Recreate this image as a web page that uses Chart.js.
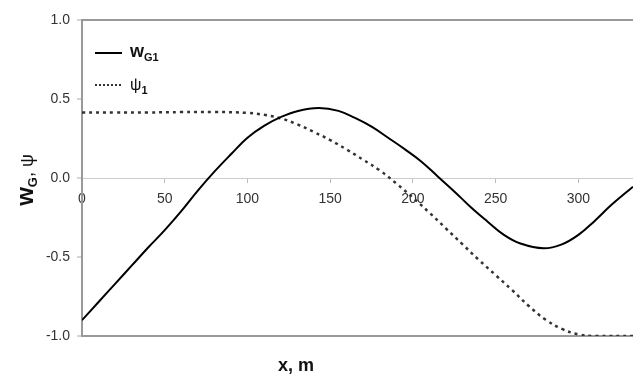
<!DOCTYPE html>
<html lang="en">
<head>
<meta charset="UTF-8">
<title>w_G1 and psi_1 along x</title>
<script src="https://cdn.jsdelivr.net/npm/chart.js"></script>
<style>
    html, body { margin: 0; padding: 0; background: #fff; }
    #wrap { width: 633px; height: 375px; }
</style>
</head>
<body>
<div id="wrap"><canvas id="chart"></canvas></div>
<script>
// values
const wX   = [0, 10, 20, 30, 40, 50, 60, 70, 80, 90, 100, 110, 120, 130, 143, 155, 165, 175, 185, 195,
              205, 215, 225, 235, 245, 255, 265, 279, 290, 300, 310, 320, 333];
const wY   = [-0.90, -0.785, -0.67, -0.555, -0.44, -0.33, -0.21, -0.08, 0.04, 0.15, 0.255, 0.33, 0.385, 0.423,
              0.443, 0.425, 0.38, 0.325, 0.255, 0.183, 0.105, 0.01, -0.085, -0.185, -0.275, -0.36, -0.415,
              -0.445, -0.42, -0.36, -0.27, -0.17, -0.055];
const psiX = [0, 20, 40, 60, 80, 100, 110, 120, 130, 140, 150, 160, 170, 180, 190, 200, 210, 220, 230,
              240, 250, 260, 270, 280, 290, 300, 310, 333];
const psiY = [0.415, 0.415, 0.415, 0.417, 0.418, 0.412, 0.40, 0.378, 0.34, 0.292, 0.24, 0.18, 0.115, 0.048,
              -0.035, -0.125, -0.22, -0.32, -0.42, -0.52, -0.615, -0.71, -0.81, -0.895, -0.955, -0.99, -1.0, -1.0];
const xMin = 0, xMax = 333, xStep = 50;
const yMin = -1, yMax = 1, yStep = 0.5;

const FONT = '"Liberation Sans", Arial, sans-serif';

// draws main text followed by a lowered subscript, returns the width used
function textWithSub(ctx, x, y, main, mainFont, sub, subFont, drop) {
    ctx.font = mainFont;
    ctx.fillText(main, x, y);
    let w = ctx.measureText(main).width;
    if (sub) {
        ctx.font = subFont;
        ctx.fillText(sub, x + w, y + drop);
        w += ctx.measureText(sub).width;
    }
    return w;
}

const extras = {
    id: 'extras',
    afterDraw(chart) {
        const ctx = chart.ctx;
        ctx.save();
        ctx.fillStyle = '#111';
        ctx.textBaseline = 'alphabetic';
        ctx.textAlign = 'left';

        // legend
        ctx.strokeStyle = '#000';
        ctx.lineWidth = 2;
        ctx.setLineDash([]);
        ctx.beginPath(); ctx.moveTo(95, 53); ctx.lineTo(122, 53); ctx.stroke();
        textWithSub(ctx, 130, 57, 'w', 'bold 18px ' + FONT, 'G1', 'bold 11px ' + FONT, 4);

        ctx.strokeStyle = '#333';
        ctx.setLineDash([2, 2]);
        ctx.beginPath(); ctx.moveTo(95, 85); ctx.lineTo(123, 85); ctx.stroke();
        ctx.setLineDash([]);
        textWithSub(ctx, 130, 90, '\u03c8', '16px ' + FONT, '1', 'bold 11px ' + FONT, 4);

        // x title
        ctx.font = 'bold 18px ' + FONT;
        ctx.textAlign = 'center';
        ctx.fillText('x, m', 296, 371);

        // y title, rotated
        ctx.translate(33, 180);
        ctx.rotate(-Math.PI / 2);
        ctx.textAlign = 'left';
        ctx.font = 'bold 24px ' + FONT;
        const w1 = ctx.measureText('w').width;
        ctx.font = 'bold 13px ' + FONT;
        const w2 = ctx.measureText('G').width;
        ctx.font = '18px ' + FONT;
        const w3 = ctx.measureText(', \u03c8').width;
        let x = -(w1 + w2 + w3) / 2;
        x += textWithSub(ctx, x, 0, 'w', 'bold 24px ' + FONT, 'G', 'bold 13px ' + FONT, 4);
        ctx.font = '18px ' + FONT;
        ctx.fillText(', \u03c8', x, 0);
        ctx.restore();
    }
};

new Chart(document.getElementById('chart'), {
    type: 'line',
    data: {
        datasets: [
            {
                label: 'wG1',
                data: wX.map((x, i) => ({ x: x, y: wY[i] })),
                borderColor: '#000',
                borderWidth: 2,
                pointRadius: 0,
                tension: 0.4,
                fill: false
            },
            {
                label: 'psi1',
                data: psiX.map((x, i) => ({ x: x, y: psiY[i] })),
                borderColor: '#333',
                borderWidth: 2.5,
                borderDash: [3, 4],
                pointRadius: 0,
                tension: 0.4,
                fill: false
            }
        ]
    },
    options: {
        responsive: true,
        maintainAspectRatio: false,
        animation: false,
        layout: { padding: { top: 20, right: 0, left: 0, bottom: 0 } },
        plugins: {
            legend: { display: false },
            tooltip: { enabled: false }
        },
        scales: {
            x: {
                type: 'linear',
                position: 'bottom',
                min: xMin,
                max: xMax,
                ticks: { display: false },
                grid: { display: false },
                border: { display: true, color: '#999', width: 2 },
                afterFit: (scale) => { scale.height = 39; }
            },
            xZero: {
                type: 'linear',
                position: { y: 0 },
                min: xMin,
                max: xMax,
                ticks: {
                    stepSize: xStep,
                    includeBounds: false,
                    color: '#333',
                    padding: 9,
                    font: { family: FONT, size: 14 }
                },
                grid: { drawOnChartArea: false, tickLength: 4, tickColor: '#bbb' },
                border: { color: '#ccc', width: 1 }
            },
            y: {
                type: 'linear',
                min: yMin,
                max: yMax,
                ticks: {
                    stepSize: yStep,
                    color: '#333',
                    padding: 7,
                    font: { family: FONT, size: 14 },
                    callback: (v) => v.toFixed(1)
                },
                grid: {
                    color: (c) => (c.tick && Math.abs(c.tick.value) === 1) ? '#999' : 'rgba(0,0,0,0)',
                    lineWidth: 2,
                    tickLength: 5,
                    tickColor: '#aaa',
                    tickWidth: 1
                },
                border: { color: '#999', width: 2 },
                afterFit: (scale) => { scale.width = 82; }
            }
        }
    },
    plugins: [extras]
});
</script>
</body>
</html>
